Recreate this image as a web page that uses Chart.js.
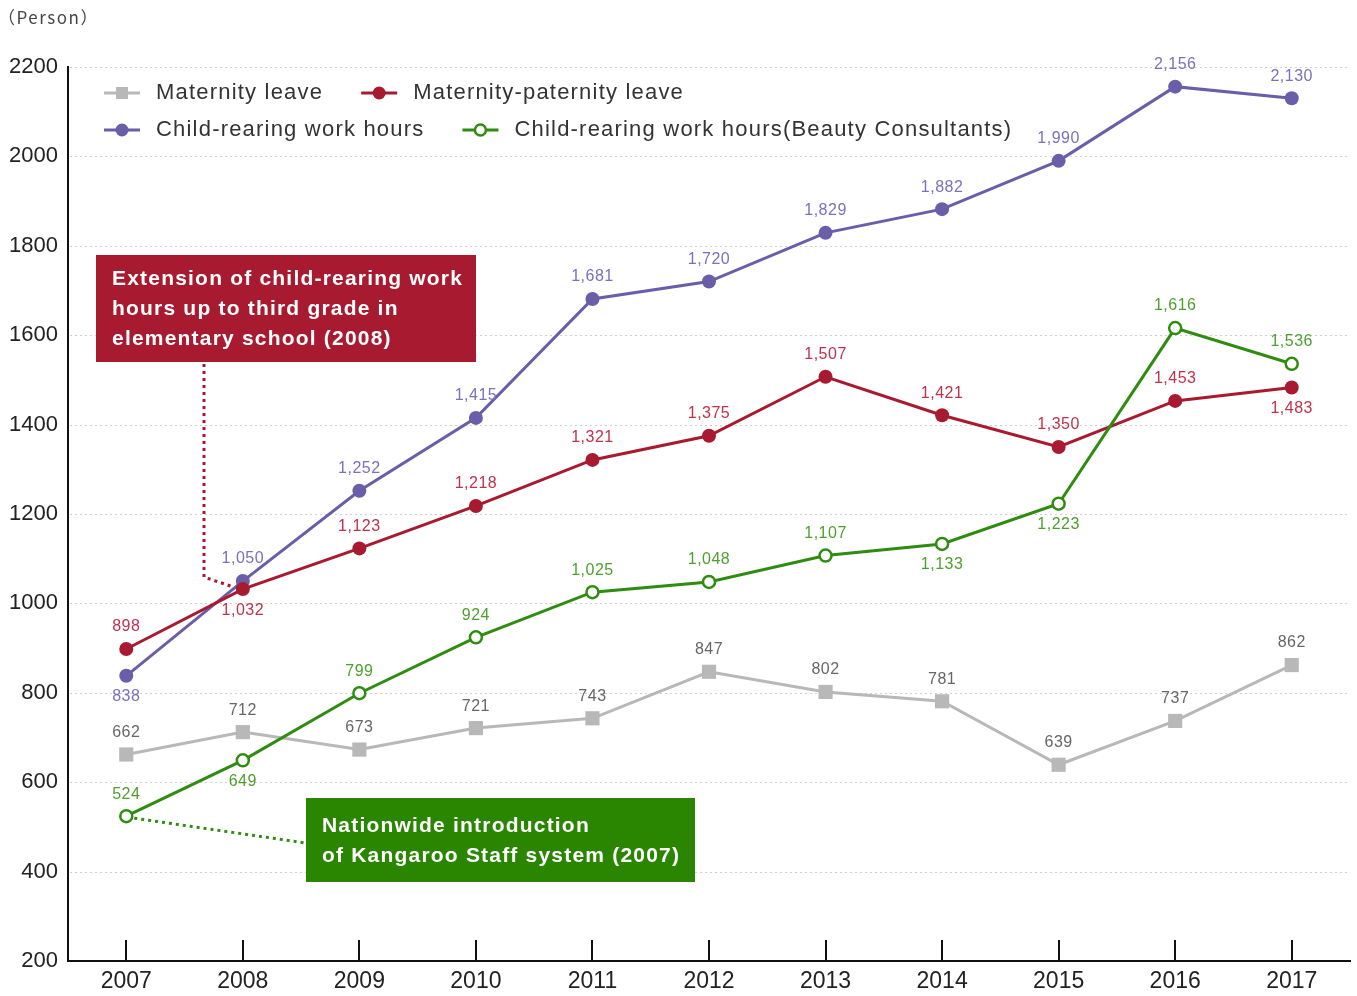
<!DOCTYPE html>
<html>
<head>
<meta charset="utf-8">
<script src="https://cdn.jsdelivr.net/npm/chart.js@4/dist/chart.umd.min.js"></script>
<style>
  body { margin: 0; background: #fff; }
  canvas { display: block; }
</style>
</head>
<body>
<canvas id="myChart" width="1357" height="996"></canvas>
<script>
const years = ['2007', '2008', '2009', '2010', '2011', '2012', '2013', '2014', '2015', '2016', '2017']

const maternityLeave = [662, 712, 673, 721, 743, 847, 802, 781, 639, 737, 862]
const maternityPaternity = [898, 1032, 1123, 1218, 1321, 1375, 1507, 1421, 1350, 1453, 1483]
const childRearing = [838, 1050, 1252, 1415, 1681, 1720, 1829, 1882, 1990, 2156, 2130]
const childRearingBC = [524, 649, 799, 924, 1025, 1048, 1107, 1133, 1223, 1616, 1536]

const yMin = 200
const yMax = 2200
const yStep = 200

// which value labels sit under their point instead of above
const belowGray = []
const belowRed = [1, 10]
const belowPurple = [0]
const belowGreen = [1, 7, 8]

const GRAY = '#b8b8b8'
const RED = '#a81a30'
const PURPLE = '#6a5ea9'
const GREEN = '#2f8c10'
const FONT = '"Liberation Sans", Arial, sans-serif'

function fmt(v){
    return v.toLocaleString('en-US')
}

const datasets = [
    {
        label: 'Child-rearing work hours(Beauty Consultants)',
        data: childRearingBC,
        borderColor: GREEN,
        backgroundColor: '#fff',
        borderWidth: 3,
        pointRadius: 6,
        pointBorderWidth: 2.5,
        pointBackgroundColor: '#fff',
        pointBorderColor: GREEN,
        labelColor: '#4f9f2e',
        below: belowGreen
    },
    {
        label: 'Maternity-paternity leave',
        data: maternityPaternity,
        borderColor: RED,
        backgroundColor: RED,
        borderWidth: 3,
        pointRadius: 7,
        pointBorderWidth: 0,
        labelColor: '#c0324a',
        below: belowRed
    },
    {
        label: 'Child-rearing work hours',
        data: childRearing,
        borderColor: PURPLE,
        backgroundColor: PURPLE,
        borderWidth: 3,
        pointRadius: 7,
        pointBorderWidth: 0,
        labelColor: '#7b70bd',
        below: belowPurple
    },
    {
        label: 'Maternity leave',
        data: maternityLeave,
        borderColor: GRAY,
        backgroundColor: GRAY,
        borderWidth: 3,
        pointStyle: 'rect',
        pointRadius: 10,
        pointBorderWidth: 0,
        labelColor: '#666',
        below: belowGray
    }
]

const legendItems = [
    [{ text: 'Maternity leave', color: GRAY, style: 'rect' }, { text: 'Maternity-paternity leave', color: RED, style: 'dot' }],
    [{ text: 'Child-rearing work hours', color: PURPLE, style: 'dot' }, { text: 'Child-rearing work hours(Beauty Consultants)', color: GREEN, style: 'ring' }]
]

function drawMarker(ctx, style, color, x, y){
    ctx.save()
    ctx.strokeStyle = color
    ctx.lineWidth = 3
    ctx.beginPath()
    ctx.moveTo(x - 18, y)
    ctx.lineTo(x + 18, y)
    ctx.stroke()
    if(style == 'rect'){
        ctx.fillStyle = color
        ctx.fillRect(x - 6, y - 6, 12, 12)
    }
    else if(style == 'dot'){
        ctx.fillStyle = color
        ctx.beginPath()
        ctx.arc(x, y, 6.5, 0, Math.PI * 2)
        ctx.fill()
    }
    else {
        ctx.fillStyle = '#fff'
        ctx.lineWidth = 2.5
        ctx.beginPath()
        ctx.arc(x, y, 5.5, 0, Math.PI * 2)
        ctx.fill()
        ctx.stroke()
    }
    ctx.restore()
}

function textBox(ctx, x, y, w, h, fill, firstLine, lines){
    ctx.save()
    ctx.fillStyle = fill
    ctx.fillRect(x, y, w, h)
    ctx.fillStyle = '#fff'
    ctx.font = 'bold 21px ' + FONT
    ctx.letterSpacing = '1.2px'
    ctx.textBaseline = 'middle'
    lines.forEach((line, i) => {
        ctx.fillText(line, x + 16, y + firstLine + i * 30)
    })
    ctx.restore()
}

const extras = {
    id: 'extras',
    beforeDatasetsDraw(chart){
        const ctx = chart.ctx
        const area = chart.chartArea
        const y = chart.scales.y
        const x = chart.scales.x
        ctx.save()
        // dotted horizontal guides
        ctx.strokeStyle = '#cfcfcf'
        ctx.lineWidth = 1
        ctx.setLineDash([2, 3])
        y.ticks.forEach(t => {
            if(t.value <= yMin) return
            const py = Math.round(y.getPixelForValue(t.value)) + 0.5
            ctx.beginPath()
            ctx.moveTo(area.left + 2, py)
            ctx.lineTo(area.right, py)
            ctx.stroke()
        })
        ctx.setLineDash([])
        // upward tick marks on the year axis
        ctx.strokeStyle = '#111'
        ctx.lineWidth = 2
        years.forEach((yr, i) => {
            const px = Math.round(x.getPixelForValue(i))
            ctx.beginPath()
            ctx.moveTo(px, area.bottom)
            ctx.lineTo(px, area.bottom - 21)
            ctx.stroke()
        })
        ctx.restore()
    },
    afterDatasetsDraw(chart){
        const ctx = chart.ctx

        // value labels
        ctx.save()
        ctx.font = '16px ' + FONT
        ctx.letterSpacing = '0.5px'
        ctx.textAlign = 'center'
        ctx.textBaseline = 'middle'
        chart.data.datasets.forEach((ds, di) => {
            const meta = chart.getDatasetMeta(di)
            ctx.fillStyle = ds.labelColor
            meta.data.forEach((pt, i) => {
                const dy = ds.below.includes(i) ? 21 : -22
                ctx.fillText(fmt(ds.data[i]), pt.x, pt.y + dy)
            })
        })
        ctx.restore()

        // connector from the 2008 note to the 2008 point
        const redPt = chart.getDatasetMeta(1).data[1]
        ctx.save()
        ctx.strokeStyle = RED
        ctx.lineWidth = 3
        ctx.setLineDash([3, 4])
        ctx.beginPath()
        ctx.moveTo(204, 364)
        ctx.lineTo(204, redPt.y - 12)
        ctx.lineTo(redPt.x - 9, redPt.y - 2)
        ctx.stroke()

        // connector from the 2007 point to the Kangaroo note
        const greenPt = chart.getDatasetMeta(0).data[0]
        ctx.strokeStyle = GREEN
        ctx.beginPath()
        ctx.moveTo(greenPt.x + 8, greenPt.y + 2)
        ctx.lineTo(306, 843)
        ctx.stroke()
        ctx.restore()

        textBox(ctx, 96, 255, 380, 107, RED, 24, [
            'Extension of child-rearing work',
            'hours up to third grade in',
            'elementary school (2008)'
        ])
        textBox(ctx, 306, 798, 389, 84, '#2a8500', 28, [
            'Nationwide introduction',
            'of Kangaroo Staff system (2007)'
        ])

        // legend
        ctx.save()
        ctx.font = '22px ' + FONT
        ctx.letterSpacing = '1.2px'
        ctx.fillStyle = '#333'
        ctx.textBaseline = 'middle'
        legendItems.forEach((row, r) => {
            let px = 104
            const py = 93 + r * 37
            row.forEach(item => {
                drawMarker(ctx, item.style, item.color, px + 18, py)
                ctx.fillText(item.text, px + 52, py)
                px += 52 + ctx.measureText(item.text).width + 38
            })
        })
        ctx.restore()

        // unit
        ctx.save()
        ctx.font = '17px "Noto Sans CJK JP", ' + FONT
        ctx.letterSpacing = '1.5px'
        ctx.fillStyle = '#444'
        ctx.textBaseline = 'middle'
        ctx.fillText('（Person）', -2, 18)
        ctx.restore()
    }
}

const config = {
    type: 'line',
    data: {
        labels: years,
        datasets: datasets
    },
    options: {
        responsive: false,
        animation: false,
        layout: { autoPadding: false, padding: { top: 67, right: 7, left: 0, bottom: 0 } },
        plugins: {
            legend: { display: false },
            tooltip: { enabled: false }
        },
        scales: {
            x: {
                type: 'category',
                offset: true,
                grid: { drawOnChartArea: false, drawTicks: false },
                border: { display: true, color: '#111', width: 2 },
                ticks: { font: { family: FONT, size: 23 }, color: '#222', padding: 7 },
                afterFit: s => {
                    s.height = 35
                    s.paddingLeft = 0
                    s.paddingRight = 0
                }
            },
            y: {
                min: yMin,
                max: yMax,
                grid: { drawOnChartArea: false, drawTicks: false },
                border: { display: true, color: '#111', width: 2 },
                ticks: {
                    stepSize: yStep,
                    font: { family: FONT, size: 22 },
                    color: '#222',
                    padding: 10,
                    callback: v => String(v)
                },
                afterFit: s => { s.width = 68 }
            }
        }
    },
    plugins: [extras]
}

const myChart = new Chart(document.getElementById('myChart'), config)
</script>
</body>
</html>
